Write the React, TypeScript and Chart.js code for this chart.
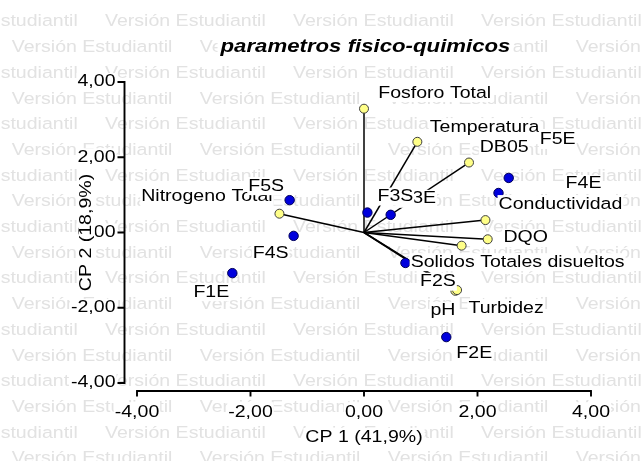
import React, { useEffect, useRef } from 'react';
import { Chart, registerables } from 'chart.js';

Chart.register(...registerables);

// ---------------- data ----------------
const objectNames = ['F1E', 'F2E', 'F2S', 'F3E', 'F3S', 'F4E', 'F4S', 'F5E', 'F5S'];
const objectX = [-2.32, 1.45, 0.73, 0.47, 0.06, 2.37, -1.24, 2.55, -1.31];
const objectY = [-1.08, -2.78, -0.81, 0.47, 0.53, 1.05, -0.09, 1.45, 0.86];

const variableNames = [
  'Fosforo Total',
  'Temperatura',
  'DB05',
  'Conductividad',
  'DQO',
  'Solidos Totales disueltos',
  'pH',
  'Turbidez',
  'Nitrogeno Total',
];
const variableX = [0.0, 0.94, 1.85, 2.14, 2.18, 1.72, 1.61, 1.64, -1.49];
const variableY = [3.29, 2.41, 1.86, 0.33, -0.18, -0.35, -1.55, -1.53, 0.5];

const axisTicks = [-4, -2, 0, 2, 4];
const chartTitle = 'parametros fisico-quimicos';
const xTitle = 'CP 1 (41,9%)';
const yTitle = 'CP 2 (18,9%)';
const watermarkText = 'Versión Estudiantil';

// ---------------- styles ----------------
const FAMILY = '"Liberation Sans", Arial, Helvetica, sans-serif';
const FONT_SIZE = 16.3;
const TEXT_STRETCH = 1.2;
// label offsets in pixels (centre of the label relative to its point)
const variableLabelOffsets = [
  [70.7, -15.7],
  [67.3, -14.7],
  [35.2, -14.7],
  [75, -16],
  [38, -1.3],
  [56, 16.5],
  [-12.5, 20],
  [49, 18],
  [-72.5, -16.7],
];
const objectLabelOffsets = [
  [-21, 19],
  [28, 16],
  [32.5, 18.7],
  [27.5, -16],
  [28, -16],
  [85, -9],
  [-23, 18],
  [49, -38],
  [-23.5, -14],
];

const fmt = (v: number) => Number(v).toFixed(2).replace('.', ',');

function stretchText(ctx: any) {
  if (!ctx || ctx.__stretched) return;
  ctx.__stretched = true;
  const origFill = ctx.fillText.bind(ctx);
  const origMeasure = ctx.measureText.bind(ctx);
  ctx.fillText = (text: string, x: number, y: number, maxWidth?: number) => {
    ctx.save();
    ctx.translate(x, y);
    ctx.scale(TEXT_STRETCH, 1);
    if (maxWidth !== undefined && maxWidth !== null) origFill(text, 0, 0, maxWidth / TEXT_STRETCH);
    else origFill(text, 0, 0);
    ctx.restore();
  };
  ctx.measureText = (text: string) => {
    const m = origMeasure(text);
    return {
      width: m.width * TEXT_STRETCH,
      actualBoundingBoxLeft: m.actualBoundingBoxLeft * TEXT_STRETCH,
      actualBoundingBoxRight: m.actualBoundingBoxRight * TEXT_STRETCH,
      actualBoundingBoxAscent: m.actualBoundingBoxAscent,
      actualBoundingBoxDescent: m.actualBoundingBoxDescent,
      fontBoundingBoxAscent: m.fontBoundingBoxAscent,
      fontBoundingBoxDescent: m.fontBoundingBoxDescent,
    };
  };
}

const X_TITLE_PAD_BOTTOM = 14.2;
const Y_TITLE_X = 86.8;
const Y_TICK_PAD = 21.5;

const backgroundPlugin = {
  id: 'bgWatermark',
  beforeDraw(chart: any) {
    const { ctx, width, height } = chart;
    ctx.save();
    ctx.fillStyle = '#ffffff';
    ctx.fillRect(0, 0, width, height);
    ctx.font = `${FONT_SIZE}px ${FAMILY}`;
    ctx.fillStyle = '#e2e2e2';
    ctx.textBaseline = 'middle';
    ctx.textAlign = 'left';
    for (let k = 0; k < 19; k++) {
      const y = 22 + 25.7 * k;
      const start = k % 2 === 0 ? -83 : 11.7;
      for (let x = start; x < width; x += 188) ctx.fillText(watermarkText, x, y);
    }
    // white boxes behind x title and tick labels
    ctx.fillStyle = '#ffffff';
    const lh = FONT_SIZE * 1.2;
    const xs = chart.scales.x;
    const ys = chart.scales.y;
    const xw = ctx.measureText(xTitle).width;
    const xcx = (xs.left + xs.right) / 2;
    const xcy = xs.bottom - X_TITLE_PAD_BOTTOM - lh / 2;
    ctx.fillRect(xcx - xw / 2 - 2, xcy - 9, xw + 4, 18);
    const right = chart.chartArea.left - Y_TICK_PAD;
    axisTicks.forEach((v) => {
      const w = ctx.measureText(fmt(v)).width;
      const p = ys.getPixelForValue(v);
      ctx.fillRect(right - w - 1, p - 9, w + 2, 18);
    });
    ctx.restore();
  },
};

const axesPlugin = {
  id: 'offsetAxes',
  afterDraw(chart: any) {
    const { ctx, chartArea } = chart;
    const xs = chart.scales.x;
    const ys = chart.scales.y;
    ctx.save();
    ctx.strokeStyle = '#000';
    ctx.lineWidth = 1.9;
    const ax = chartArea.left - 12.5;
    const ay = chartArea.bottom + 8;
    ctx.beginPath();
    ctx.moveTo(ax, ys.getPixelForValue(axisTicks[axisTicks.length - 1]) - 0.9);
    ctx.lineTo(ax, ys.getPixelForValue(axisTicks[0]) + 0.9);
    axisTicks.forEach((v) => {
      const p = ys.getPixelForValue(v);
      ctx.moveTo(ax - 7, p);
      ctx.lineTo(ax, p);
    });
    ctx.moveTo(xs.getPixelForValue(axisTicks[0]) - 0.9, ay);
    ctx.lineTo(xs.getPixelForValue(axisTicks[axisTicks.length - 1]) + 0.9, ay);
    axisTicks.forEach((v) => {
      const p = xs.getPixelForValue(v);
      ctx.moveTo(p, ay);
      ctx.lineTo(p, ay + 5.5);
    });
    ctx.stroke();

    // y-axis title (rotated) with white box
    ctx.font = `${FONT_SIZE}px ${FAMILY}`;
    ctx.textAlign = 'center';
    ctx.textBaseline = 'middle';
    const yw = ctx.measureText(yTitle).width;
    ctx.save();
    ctx.translate(Y_TITLE_X, (chartArea.top + chartArea.bottom) / 2);
    ctx.rotate(-Math.PI / 2);
    ctx.fillStyle = '#fff';
    ctx.fillRect(-yw / 2 - 2, -8, yw + 4, 16);
    ctx.fillStyle = '#000';
    ctx.fillText(yTitle, 0, 0);
    ctx.restore();

    // chart title with white box
    ctx.font = `italic bold 18.5px ${FAMILY}`;
    ctx.textAlign = 'center';
    ctx.textBaseline = 'alphabetic';
    const tw = ctx.measureText(chartTitle).width;
    const tcx = (chartArea.left + chartArea.right) / 2 + 1.5;
    ctx.fillStyle = '#fff';
    ctx.fillRect(tcx - tw / 2 - 3, 36, tw + 6, 21);
    ctx.fillStyle = '#000';
    ctx.fillText(chartTitle, tcx, 51.7);
    ctx.restore();
  },
};

function drawLabel(ctx: any, text: string, cx: number, cy: number) {
  const w = ctx.measureText(text).width;
  ctx.fillStyle = '#ffffff';
  ctx.fillRect(cx - w / 2 - 1, cy - 9, w + 2, 18);
  ctx.fillStyle = '#000000';
  ctx.fillText(text, cx, cy);
}

const labelsPlugin = {
  id: 'pointLabels',
  afterDatasetsDraw(chart: any) {
    const { ctx } = chart;
    const xs = chart.scales.x;
    const ys = chart.scales.y;
    ctx.save();
    ctx.font = `${FONT_SIZE}px ${FAMILY}`;
    ctx.textAlign = 'center';
    ctx.textBaseline = 'middle';
    variableNames.forEach((name, i) => {
      const px = xs.getPixelForValue(variableX[i]);
      const py = ys.getPixelForValue(variableY[i]);
      const [dx, dy] = variableLabelOffsets[i];
      drawLabel(ctx, name, px + dx, py + dy);
    });
    objectNames.forEach((name, i) => {
      const px = xs.getPixelForValue(objectX[i]);
      const py = ys.getPixelForValue(objectY[i]);
      const [dx, dy] = objectLabelOffsets[i];
      drawLabel(ctx, name, px + dx, py + dy);
    });
    ctx.restore();
  },
};

export default function App() {
  const ref = useRef<HTMLCanvasElement>(null);

  useEffect(() => {
    const canvas = ref.current;
    if (!canvas) return;
    const ctx = canvas.getContext('2d');
    stretchText(ctx);

    const tickFont = { family: FAMILY, size: FONT_SIZE };
    const lineDatasets = variableNames.map((name, i) => ({
      label: name,
      data: [
        { x: 0, y: 0 },
        { x: variableX[i], y: variableY[i] },
      ],
      showLine: true,
      borderColor: '#000000',
      borderWidth: 1.5,
      pointRadius: 0,
      pointHoverRadius: 0,
      order: 3,
    }));

    const chart = new Chart(canvas, {
      type: 'scatter',
      data: {
        datasets: [
          ...lineDatasets,
          {
            label: 'Variables',
            data: variableX.map((x, i) => ({ x, y: variableY[i] })),
            backgroundColor: '#ffff88',
            borderColor: '#404040',
            borderWidth: 1,
            pointRadius: 4.5,
            pointHoverRadius: 4.5,
            order: 2,
          },
          {
            label: 'Objetos',
            data: objectX.map((x, i) => ({ x, y: objectY[i] })),
            backgroundColor: '#0000dd',
            borderColor: '#00005a',
            borderWidth: 1,
            pointRadius: 4.7,
            pointHoverRadius: 4.7,
            order: 1,
          },
        ] as any,
      },
      options: {
        responsive: false,
        animation: false,
        events: [],
        layout: { padding: { left: 0, right: 53, top: 82, bottom: 0 } },
        plugins: {
          legend: { display: false },
          tooltip: { enabled: false },
          title: { display: false },
        },
        scales: {
          x: {
            type: 'linear',
            position: 'bottom',
            min: axisTicks[0],
            max: axisTicks[axisTicks.length - 1],
            afterBuildTicks: (s: any) => {
              s.ticks = axisTicks.map((v) => ({ value: v }));
            },
            afterFit: (s: any) => {
              s.height = 461 - 383;
            },
            grid: { display: false, drawTicks: false },
            border: { display: false },
            ticks: {
              padding: 20.2,
              font: tickFont,
              color: '#000',
              maxRotation: 0,
              autoSkip: false,
              callback: (v: any) => fmt(v),
              showLabelBackdrop: true,
              backdropColor: '#ffffff',
              backdropPadding: 1,
            },
            title: {
              display: true,
              text: xTitle,
              font: tickFont,
              color: '#000',
              padding: { top: 0, bottom: X_TITLE_PAD_BOTTOM },
            },
          },
          y: {
            type: 'linear',
            position: 'left',
            min: axisTicks[0],
            max: axisTicks[axisTicks.length - 1],
            afterBuildTicks: (s: any) => {
              s.ticks = axisTicks.map((v) => ({ value: v }));
            },
            afterFit: (s: any) => {
              s.width = 137;
            },
            grid: { display: false, drawTicks: false },
            border: { display: false },
            ticks: {
              padding: Y_TICK_PAD,
              font: tickFont,
              color: '#000',
              autoSkip: false,
              callback: (v: any) => fmt(v),
              showLabelBackdrop: false,
            },
            title: { display: false },
          },
        },
      } as any,
      plugins: [backgroundPlugin, labelsPlugin, axesPlugin],
    });

    return () => chart.destroy();
  }, []);

  return (
    <div style={{ position: 'absolute', left: 0, top: 0, width: 644, height: 461 }}>
      <canvas ref={ref} width={644} height={461} style={{ width: '644px', height: '461px', display: 'block' }} />
    </div>
  );
}
